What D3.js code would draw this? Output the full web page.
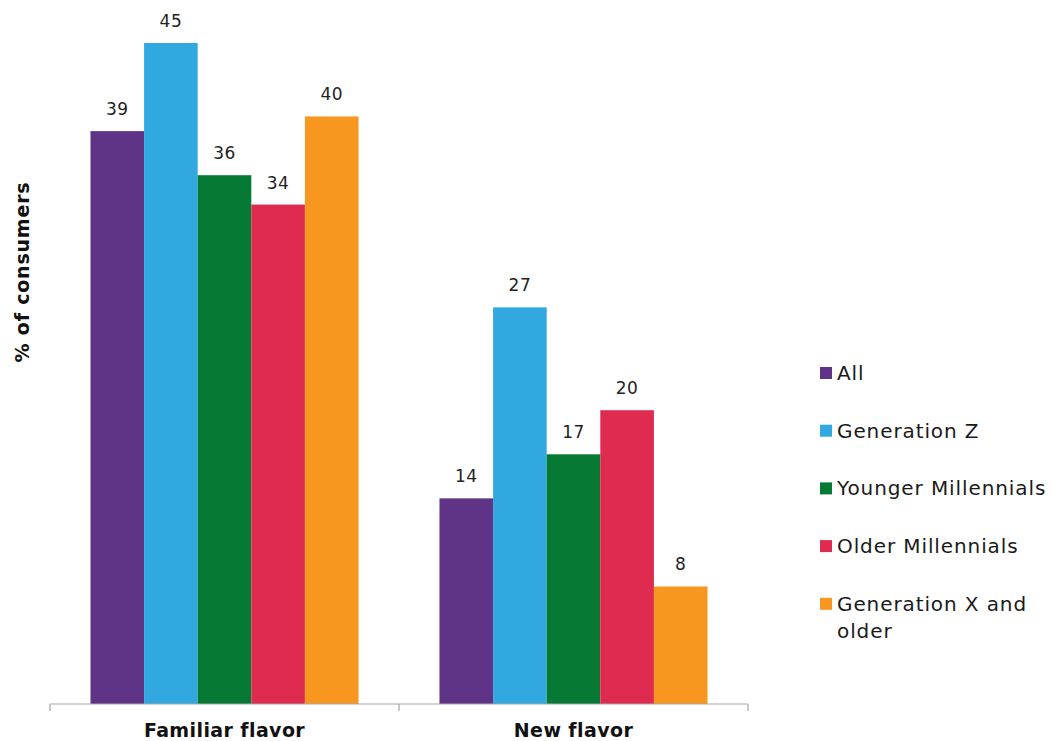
<!DOCTYPE html>
<html>
<head>
<meta charset="utf-8">
<script src="https://cdn.jsdelivr.net/npm/d3@7"></script>
<style>
  body { margin: 0; background: #fff; }
  svg { font-family: "DejaVu Sans", "Open Sans", sans-serif; }
</style>
</head>
<body>
<div id="chart"></div>
<script>
// Data
const categories = ["Familiar flavor", "New flavor"];
const seriesNames = ["All", "Generation Z", "Younger Millennials", "Older Millennials", "Generation X and older"];
const seriesColors = ["#5f3487", "#31a8df", "#067934", "#df2b4f", "#f7971f"];
const familiarValues = [39, 45, 36, 34, 40];
const newValues = [14, 27, 17, 20, 8];
const yAxisTitle = "% of consumers";

const valuesByCategory = [familiarValues, newValues];

const width = 1053;
const height = 741;
const margin = { top: 43, right: 305, bottom: 37, left: 50 };

const svg = d3.select("#chart")
    .append("svg")
    .attr("width", width)
    .attr("height", height);

// scales
const x0 = d3.scaleBand()
    .domain(categories)
    .range([margin.left, width - margin.right])
    .padding(0);

const x1 = d3.scaleBand()
    .domain(seriesNames)
    .range([0, x0.bandwidth()])
    .paddingInner(0)
    .paddingOuter(0.755);

const y = d3.scaleLinear()
    .domain([0, 45])
    .range([height - margin.bottom, margin.top]);

const color = d3.scaleOrdinal()
    .domain(seriesNames)
    .range(seriesColors);

const rows = categories.flatMap((c, i) =>
    seriesNames.map((s, j) => ({ category: c, series: s, value: valuesByCategory[i][j] }))
);

// bars
svg.append("g")
    .selectAll("rect")
    .data(rows)
    .join("rect")
    .attr("x", d => x0(d.category) + x1(d.series))
    .attr("y", d => y(d.value))
    .attr("width", x1.bandwidth())
    .attr("height", d => y(0) - y(d.value))
    .attr("fill", d => color(d.series));

// value labels
svg.append("g")
    .selectAll("text")
    .data(rows)
    .join("text")
    .attr("x", d => x0(d.category) + x1(d.series) + x1.bandwidth() / 2)
    .attr("y", d => y(d.value) - 16)
    .attr("text-anchor", "middle")
    .attr("font-size", 17)
    .attr("letter-spacing", 0.5)
    .attr("fill", "#222")
    .text(d => d.value);

// x axis with group divider ticks
const xAxis = svg.append("g")
    .attr("transform", `translate(0,${y(0)})`)
    .call(d3.axisBottom(x0).tickSize(0).tickPadding(0).tickFormat(""));
xAxis.select(".domain").remove();

const axisColor = "#a6a6a6";
const tickPositions = [margin.left, ...categories.map(c => x0(c) + x0.bandwidth())];
xAxis.append("line")
    .attr("x1", margin.left)
    .attr("x2", width - margin.right)
    .attr("stroke", axisColor)
    .attr("stroke-width", 1.2);
xAxis.selectAll(".divider")
    .data(tickPositions)
    .join("line")
    .attr("class", "divider")
    .attr("x1", d => d)
    .attr("x2", d => d)
    .attr("y1", 0)
    .attr("y2", 7)
    .attr("stroke", axisColor)
    .attr("stroke-width", 1.2);

svg.append("g")
    .selectAll("text")
    .data(categories)
    .join("text")
    .attr("x", d => x0(d) + x0.bandwidth() / 2)
    .attr("y", height - 4)
    .attr("text-anchor", "middle")
    .attr("font-size", 19)
    .attr("font-weight", "bold")
    .attr("letter-spacing", 0.4)
    .attr("fill", "#111")
    .text(d => d);

// y axis title
svg.append("text")
    .attr("transform", `translate(29,272) rotate(-90)`)
    .attr("text-anchor", "middle")
    .attr("font-size", 19)
    .attr("font-weight", "bold")
    .attr("letter-spacing", 0.8)
    .attr("fill", "#111")
    .text(yAxisTitle);

// legend
const legend = svg.append("g")
    .attr("transform", "translate(820,373)");

const legendItems = legend.selectAll("g")
    .data(seriesNames)
    .join("g")
    .attr("transform", (d, i) => `translate(0,${i * 57.7})`);

legendItems.append("rect")
    .attr("x", 0)
    .attr("y", -6)
    .attr("width", 12)
    .attr("height", 12)
    .attr("fill", d => color(d));

legendItems.append("text")
    .attr("x", 17)
    .attr("y", 7)
    .attr("font-size", 20)
    .attr("letter-spacing", 0.9)
    .attr("fill", "#1a1a1a")
    .each(function (d) {
        const t = d3.select(this);
        // wrap the long label onto two lines like the original
        const lines = d === "Generation X and older" ? ["Generation X and", "older"] : [d];
        lines.forEach((ln, k) => {
            t.append("tspan")
                .attr("x", 17)
                .attr("dy", k === 0 ? 0 : 27)
                .text(ln);
        });
    });
</script>
</body>
</html>
